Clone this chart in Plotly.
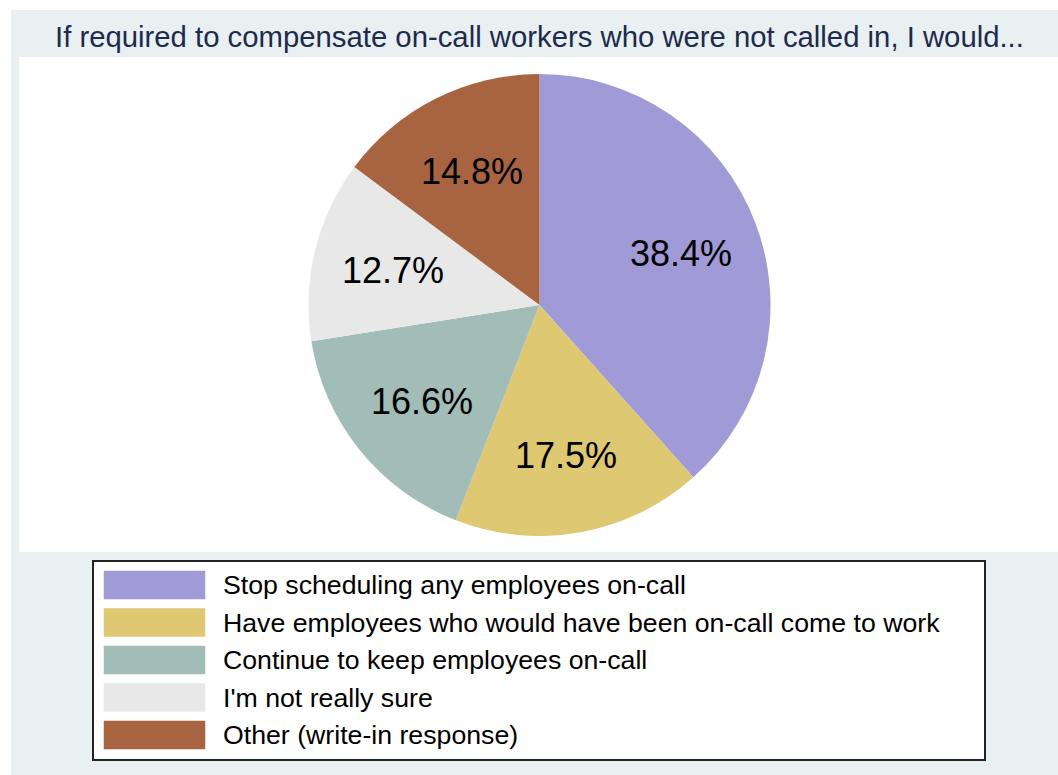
import math
import plotly.graph_objects as go

# Survey responses
categories = [
    "Stop scheduling any employees on-call",
    "Have employees who would have been on-call come to work",
    "Continue to keep employees on-call",
    "I'm not really sure",
    "Other (write-in response)",
]
shares = [38.4, 17.5, 16.6, 12.7, 14.8]
colors = ["#A09AD6", "#DEC872", "#A2BDB7", "#E8E8E8", "#A86341"]

title_text = "If required to compensate on-call workers who were not called in, I would..."

FONT = "Liberation Sans, Arial, Helvetica, sans-serif"
W, H = 1058, 775


def px_x(x):
    return x / W


def px_y(y):
    return 1 - y / H


fig = go.Figure()

# Pie geometry (pixels)
cx, cy, r = 539.5, 305, 231
fig.add_trace(go.Pie(
    labels=categories,
    values=shares,
    textinfo="none",
    marker=dict(colors=colors, line=dict(width=0)),
    sort=False,
    direction="clockwise",
    rotation=0,
    hoverinfo="label+percent",
    domain=dict(x=[px_x(cx - r), px_x(cx + r)], y=[px_y(cy + r), px_y(cy - r)]),
    showlegend=False,
))

shapes = [
    # outer tinted panel
    dict(type="rect", xref="paper", yref="paper", x0=px_x(11), x1=1, y0=0, y1=px_y(10),
         fillcolor="#E8F0F2", line=dict(width=0), layer="below"),
    # white plotting panel
    dict(type="rect", xref="paper", yref="paper", x0=px_x(19), x1=1, y0=px_y(552), y1=px_y(57),
         fillcolor="#FFFFFF", line=dict(width=0), layer="below"),
    # legend box
    dict(type="rect", xref="paper", yref="paper", x0=px_x(93), x1=px_x(985), y0=px_y(760), y1=px_y(561),
         fillcolor="#FFFFFF", line=dict(width=2, color="#222222"), layer="below"),
]

annotations = [
    dict(text=title_text, xref="paper", yref="paper", x=px_x(539.5), y=px_y(37),
         xanchor="center", yanchor="middle", showarrow=False,
         font=dict(family=FONT, size=29.3, color="#1F2A4D")),
]

# Percentage labels at each slice's mid-angle, two thirds of the way out
total = sum(shares)
cum = 0.0
for v in shares:
    mid = (cum + v / 2) / total * 2 * math.pi
    cum += v
    lx = cx + 0.655 * r * math.sin(mid)
    ly = cy - 0.655 * r * math.cos(mid) + 2
    annotations.append(dict(text=f"{v:.1f}%", xref="paper", yref="paper",
                            x=px_x(lx), y=px_y(ly), xanchor="center", yanchor="middle",
                            showarrow=False, font=dict(family=FONT, size=36, color="#000000")))

# Legend rows
row_top0, row_step, sw_h = 571, 37.5, 28
for i, (cat, col) in enumerate(zip(categories, colors)):
    top = row_top0 + i * row_step
    shapes.append(dict(type="rect", xref="paper", yref="paper",
                       x0=px_x(104), x1=px_x(205), y0=px_y(top + sw_h), y1=px_y(top),
                       fillcolor=col, line=dict(width=0.5, color=col)))
    annotations.append(dict(text=cat, xref="paper", yref="paper",
                            x=px_x(221), y=px_y(top + sw_h / 2),
                            xanchor="left", yanchor="middle", showarrow=False,
                            font=dict(family=FONT, size=26.7, color="#000000")))

fig.update_layout(
    width=W, height=H,
    margin=dict(l=0, r=0, t=0, b=0),
    paper_bgcolor="#FFFFFF",
    plot_bgcolor="#FFFFFF",
    shapes=shapes,
    annotations=annotations,
)

fig.write_html("out.html")
